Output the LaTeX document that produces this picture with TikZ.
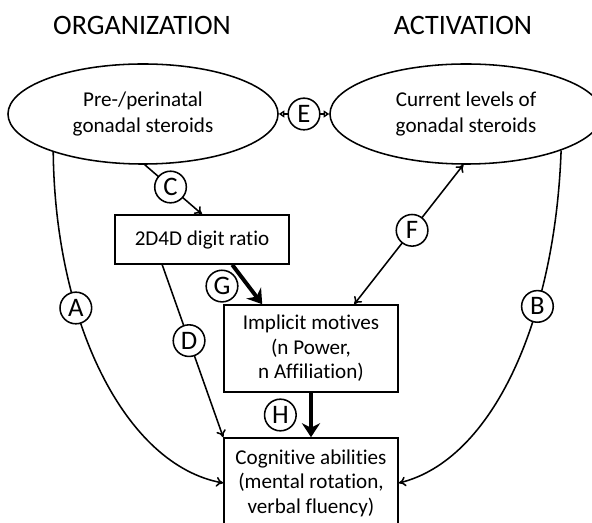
\documentclass[tikz,border=0pt]{standalone}
\usepackage{fontspec}
\setmainfont[Ligatures=NoCommon]{Carlito}
\usetikzlibrary{arrows.meta,shapes.geometric}

\begin{document}
\begin{tikzpicture}[x=0.025cm,y=-0.025cm,line width=1.1pt,>={To[length=5pt,width=7pt]},
    oval/.style={draw,ellipse,minimum height=2.5cm,align=center,font=\fontsize{15}{18}\selectfont},
    box/.style={draw,rectangle,minimum width=4.35cm,align=center,font=\fontsize{15}{17.5}\selectfont},
    lbl/.style={draw,circle,fill=white,line width=1.1pt,inner sep=0pt,minimum size=22.5pt,font=\fontsize{19}{19}\selectfont},
    title/.style={font=\fontsize{20}{24}\selectfont},
    heavy/.style={line width=2.8pt,-{Stealth[length=10pt,width=13pt]}},
    tri/.style={{Triangle[open,length=4pt,width=5pt]}-{Triangle[open,length=4pt,width=5pt]}}]
    \useasboundingbox (0,0) rectangle (592,523);
    \node[title] (org) at (142,25) {ORGANIZATION};
    \node[title] (act) at (463,25) {ACTIVATION};
    \node[oval,minimum width=6.75cm] (pre) at (143,114) {Pre-/perinatal\\gonadal steroids};
    \node[oval,minimum width=6.8cm] (cur) at (466,114) {Current levels of\\gonadal steroids};
    \node[box,minimum height=1.225cm] (dig) at (202,239.5) {2D4D digit ratio};
    \node[box,minimum height=2.175cm] (imp) at (311,348.5) {Implicit motives\\(n Power,\\n Affiliation)};
    \node[box,minimum height=2.25cm] (cog) at (311,483) {Cognitive abilities\\(mental rotation,\\verbal fluency)};
    \draw[tri] (pre) -- node[lbl]{E} (cur);
    \draw[->] (pre.272) -- node[lbl,pos=0.45]{C} (dig.north);
    \draw[->] ([xshift=1.2cm]dig.south west) -- node[lbl,pos=0.44]{D} (cog.north west);
    \draw[heavy] ([xshift=2.95cm]dig.south west) -- node[lbl,pos=0.54,left=7pt]{G} ([xshift=0.975cm]imp.north west);
    \draw[heavy] (imp.south) -- node[lbl,left=10pt]{H} (cog.north);
    \draw[<->] ([xshift=3.275cm]imp.north west) -- node[lbl,pos=0.53]{F} (cur.267);
    \draw[->] (pre.203) .. controls (55,322) and (125,465) .. (cog.west) node[lbl,pos=0.33]{A};
    \draw[->] (cur.339) .. controls (555,322) and (492,460) .. (cog.east) node[lbl,pos=0.33]{B};
\end{tikzpicture}
\end{document}
